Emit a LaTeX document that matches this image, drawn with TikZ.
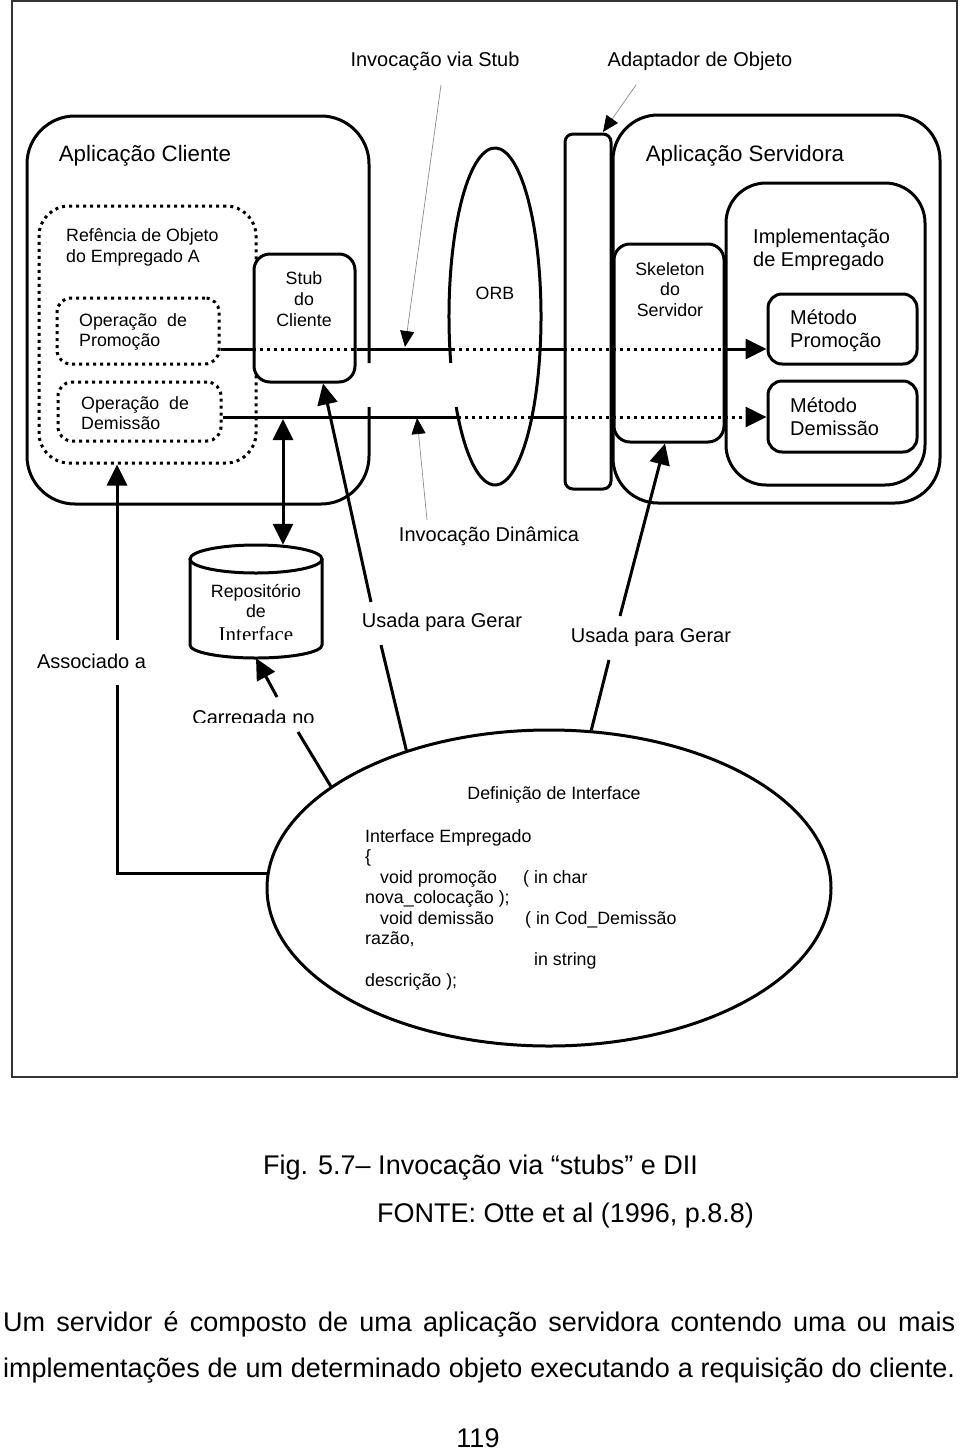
\documentclass[tikz,border=0pt]{standalone}
\usepackage{fontspec}
\setmainfont{Liberation Sans}
\newfontfamily\serifx{Liberation Serif}
\usetikzlibrary{arrows.meta,shapes.geometric}
\tikzset{
  ln/.style={line width=3pt},
  dt/.style={line width=3pt, dash pattern=on 3pt off 4pt},
  box/.style={draw, line width=3pt, inner sep=0pt, fill=white},
  dbox/.style={draw, line width=3pt, dash pattern=on 3pt off 4pt, inner sep=0pt},
  arr/.style={-{Triangle[length=21pt,width=20pt]}},
  arrboth/.style={{Triangle[length=21pt,width=20pt]}-{Triangle[length=21pt,width=20pt]}},
  thinarr/.style={line width=0.7pt, draw=black!45, -{Triangle[length=16pt,width=14pt,color=black,fill=black]}},
  big/.style={inner sep=0pt, font=\fontsize{22.3}{26}\selectfont},
  lbl/.style={inner sep=0pt, font=\fontsize{20}{23}\selectfont},
  sm/.style={inner sep=0pt, font=\fontsize{17.8}{20.5}\selectfont},
  sma/.style={inner sep=0pt, font=\fontsize{17.8}{21}\selectfont},
  smb/.style={inner sep=0pt, font=\fontsize{17.8}{20}\selectfont},
  code/.style={inner sep=0pt, anchor=base west, font=\fontsize{17.8}{20.5}\selectfont},
  captxt/.style={inner sep=0pt, anchor=base west, font=\fontsize{27}{32}\selectfont},
}
\begin{document}
\begin{tikzpicture}[x=1pt,y=-1pt]
\useasboundingbox (0,0) rectangle (960,1451);
\fill[white] (0,0) rectangle (960,1451);
\draw[line width=2pt, draw=black!80] (12,1) rectangle (957,1077);

% top labels
\node[lbl] (lstub) at (435,61) {Invocação via Stub};
\node[lbl] (ladapt) at (700,61) {Adaptador de Objeto};

% client application box (with gap on its right side)
\draw[ln, rounded corners=48pt] (369,363) -- (369,116) -- (27,116) -- (27,504) -- (369,504) -- (369,407);
\node[big] (lcli) at (145,156) {Aplicação Cliente};

% server side
\node[box, rounded corners=45pt, minimum width=327pt, minimum height=388pt] (serv) at (776.5,309) {};
\node[box, rounded corners=8pt, minimum width=46pt, minimum height=355pt] (bar) at (588,311.5) {};
\node[big] (lserv) at (745,156) {Aplicação Servidora};
\node[box, rounded corners=40pt, minimum width=199pt, minimum height=302pt] (impl) at (825.5,334) {};
\node[box, rounded corners=16pt, minimum width=110pt, minimum height=198pt] (skel) at (669,343) {};
\node[box, rounded corners=14pt, minimum width=149pt, minimum height=70pt] (mprom) at (842.5,329) {};
\node[box, rounded corners=14pt, minimum width=149pt, minimum height=71pt] (mdem) at (842.5,416.5) {};
\node[lbl, align=left, anchor=west] (timpl) at (753,249.5) {Implementação\\de Empregado};
\node[lbl, align=left, anchor=west] (tmprom) at (790,330.5) {Método\\Promoção};
\node[lbl, align=left, anchor=west] (tmdem) at (790,417) {Método\\Demissão};
\node[sm, align=center] (tskel) at (670,289.5) {Skeleton\\do\\Servidor};

% client internals
\node[dbox, rounded corners=30pt, minimum width=217pt, minimum height=257pt] (ref) at (147.5,334.5) {};
\node[sma, align=left, anchor=west] (tref) at (66,247.5) {Refência de Objeto\\do Empregado A};
\node[dbox, rounded corners=14pt, minimum width=162pt, minimum height=66pt] (oprom) at (138,331) {};
\node[smb, align=left, anchor=west] (toprom) at (79,332) {Operação~~de\\Promoção};
\node[dbox, rounded corners=14pt, minimum width=163pt, minimum height=59pt] (opdem) at (139.5,411.5) {};
\node[smb, align=left, anchor=west] (topdem) at (81,413) {Operação~~de\\Demissão};
\node[box, rounded corners=16pt, minimum width=101pt, minimum height=128pt] (stub) at (304.5,318) {};
\node[sma, align=center] (tstub) at (304,299) {Stub\\do\\Cliente};

% ORB (gap on its left side)
\coordinate (orb) at (495,316.5);
\draw[ln] (orb) ++(164:46 and 168.5) arc[start angle=164, end angle=507.5, x radius=46, y radius=168.5];
\node[sm] (torb) at (495,293) {ORB};

% horizontal invocation lines
\coordinate (yU) at (0,349);
\coordinate (yL) at (0,417);
\coordinate (orbLU) at (452,349);
\coordinate (orbRU) at (540,349);
\coordinate (orbLL) at (458,417);
\coordinate (orbRL) at (531,417);
\draw[ln] (oprom.east |- yU) -- (stub.west |- yU);
\draw[dt] (stub.west |- yU) -- (stub.east |- yU);
\draw[ln] (stub.east |- yU) -- (orbLU);
\draw[dt] (orbLU) -- (orbRU);
\draw[ln] (orbRU) -- (bar.west |- yU);
\draw[dt] (bar.west |- yU) -- (skel.east |- yU);
\draw[ln, arr] (skel.east |- yU) -- (mprom.west |- yU);
\draw[ln] (opdem.east |- yL) -- (orbLL);
\draw[dt] (orbLL) -- (orbRL);
\draw[ln] (orbRL) -- (bar.west |- yL);
\draw[dt, arr] (bar.west |- yL) -- (mdem.west |- yL);

% thin pointer lines
\coordinate (t1a) at (441,85);
\coordinate (t1b) at (405,347);
\coordinate (t2a) at (636,85);
\coordinate (t2b) at (603,132);
\coordinate (t3a) at (427,520);
\coordinate (t3b) at (417,418);
\draw[thinarr] (t1a) -- (t1b);
\draw[thinarr] (t2a) -- (t2b);
\draw[thinarr] (t3a) -- (t3b);
\node[lbl] (ldyn) at (489,536) {Invocação Dinâmica};

% repository cylinder
\node[minimum width=132pt, minimum height=113pt, inner sep=0pt] (repo) at (256,601.5) {};
\draw[ln, fill=white] (190,559) -- (190,645) arc[start angle=180, end angle=0, x radius=66, y radius=13] -- (322,559);
\draw[ln, fill=white] (256,559) ellipse[x radius=66, y radius=14];
\node[smb, align=center] (trepo) at (256,601) {Repositório\\de};
\begin{scope}
\clip (195,600) rectangle (318,639.5);
\node[inner sep=0pt, anchor=base, font=\serifx\fontsize{21}{21}\selectfont] (tint) at (256,641) {Interface};
\end{scope}

% labels
\node[lbl] (lass) at (91.5,661) {Associado a};
\node[lbl] (lus1) at (442,622) {Usada para Gerar};
\node[lbl] (lus2) at (651,637) {Usada para Gerar};
\begin{scope}
\clip (180,690) rectangle (330,722.5);
\node[lbl, anchor=base] (lcar) at (253.5,724.3) {Carregada no};
\end{scope}

% interface definition ellipse
\node[draw, ellipse, line width=3pt, minimum width=564pt, minimum height=316pt, inner sep=0pt] (def) at (549,888) {};
\node[sm] (tdef) at (554,795) {Definição de Interface};
\node[code] (c1) at (365,842) {Interface Empregado};
\node[code] (c2) at (365,862.6) {\{};
\node[code] (c3) at (365,883.1) {\makebox[158pt][l]{\hspace*{15pt}void promoção}( in char};
\node[code] (c4) at (365,903.7) {nova\_colocação );};
\node[code] (c5) at (365,924.3) {\makebox[160pt][l]{\hspace*{15pt}void demissão}( in Cod\_Demissão};
\node[code] (c6) at (365,944.9) {razão,};
\node[code] (c7) at (365,965.4) {\hspace*{169pt}in string};
\node[code] (c8) at (365,986) {descrição );};

% connectors to the ellipse
\coordinate (u1a) at (381,645);
\coordinate (u1b) at (371,602);
\coordinate (u2a) at (609,660);
\coordinate (u2b) at (620,616);
\coordinate (c1a) at (298,732);
\coordinate (c1b) at (277,697);
\coordinate (a1a) at (117,685);
\coordinate (a1b) at (117,640);
\coordinate (dblT) at (283,419);
\draw[ln] (def.136) -- (u1a);
\draw[ln, arr] (u1b) -- (stub.south -| 323,0);
\draw[ln] (def.75) -- (u2a);
\draw[ln, arr] (u2b) -- (skel.south -| 665,0);
\draw[ln] (def.155) -- (c1a);
\draw[ln, arr] (c1b) -- (repo.south -| 256,0);
\draw[ln] (def.177) -| (a1a);
\draw[ln, arr] (a1b) -- (ref.south -| 117,0);
\draw[ln, arrboth] (dblT) -- (repo.north -| 283,0);

% caption and text below
\node[captxt] (cap1) at (263,1174.5) {Fig. 5.7– Invocação via “stubs” e DII};
\node[captxt] (cap2) at (377,1222.5) {FONTE: Otte et al (1996, p.8.8)};
\node[captxt] (par1) at (3,1331.5) {\makebox[952pt][s]{Um servidor é composto de uma aplicação servidora contendo uma ou mais}};
\node[captxt] (par2) at (3,1377.5) {\makebox[952pt][s]{implementações de um determinado objeto executando a requisição do cliente.}};
\node[captxt, anchor=base] (pg) at (478,1447.5) {119};
\end{tikzpicture}
\end{document}
